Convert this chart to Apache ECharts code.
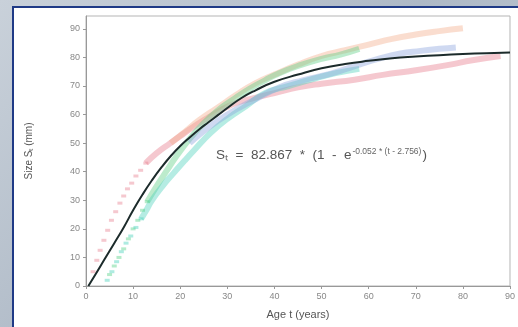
<!DOCTYPE html>
<html>
<head>
<meta charset="utf-8">
<script src="https://cdn.jsdelivr.net/npm/echarts@6/dist/echarts.min.js"></script>
<style>
  html, body { margin: 0; padding: 0; }
  body {
    width: 518px; height: 327px; overflow: hidden; position: relative;
    background: linear-gradient(135deg, #c9d1da 0%, #aeb9c6 50%, #c3ccd6 100%);
  }
  .panel {
    position: absolute; left: 12px; top: 6px; right: -4px; bottom: -4px;
    background: #fff; border: 2px solid #1f3a86;
  }
  #main { position: absolute; left: 0; top: 0; width: 518px; height: 327px; }
</style>
</head>
<body>
<div class="panel"></div>
<div id="main"></div>
<script>
// [age, size] pairs
// early scattered points (young ages) and later dense bands
const redEarly = [[1.5,5],[2.3,9],[3,12.5],[3.8,16],[4.6,19.5],[5.4,23],[6.3,26],[7.2,29],[8,31.5],[8.8,34],[9.7,36],[10.6,38.5],[11.6,40.5],[12.7,43]];
const redPts = [[12.7,43],[15,46.5],[17.9,50],[20,52.5],[22.9,55.8],[26,59],[31,63.5],[35,65.5],[40,67.5],[45,69.5],[50,70.8],[57,72.2],[63,73.9],[70,75.5],[77,77.4],[82,79],[88,80.5]];
const orangePts = [[18,50],[21,54],[24,58],[28,62.5],[32,67],[36,71],[40,74],[45,77.5],[50,80.5],[55,82.5],[60,84.5],[65,86.5],[70,88],[75,89.2],[80,90.2]];
const greenEarly = [[5,4],[6,7],[7,10],[8,13],[9,16.5],[10,20],[11,23],[12,26.5],[13,29.5]];
const greenPts = [[13,29.5],[15.4,36],[17,40],[19,45],[22,51.5],[25,57],[28,61.5],[31,65],[34.7,69],[38,72],[41,74.5],[45.3,77.2],[50,79.5],[54,81],[58,83]];
const tealEarly = [[4.5,2],[5.5,5],[6.5,8.5],[7.5,12],[8.5,15],[9.5,17.5],[10.6,20.5],[11.7,23.5]];
const tealPts = [[11.7,23.5],[12.8,26.5],[14,30],[16.5,35.5],[18.6,39.5],[21,44],[23,47.6],[26.4,53.5],[30,58.5],[34,63],[38,67.5],[43,70],[48.9,72.8],[53,74.5],[58,76]];
const bluePts = [[22,50],[26,55.5],[30,60],[35,64.5],[41,69.5],[46,72],[52,74.3],[58,77.5],[62,79.5],[66.5,81.3],[71,82.3],[75,83],[78.5,83.5]];
const fitPts = [[0.5,0],[2,4],[4,9.5],[6,15],[8,20.5],[10,26.5],[12,32],[14,37],[16,41.5],[18,45.5],[20,49],[22,52],[24,54.8],[26,57.3],[28,59.8],[30,62.3],[33,65.8],[36,68.5],[40,71.5],[45,74],[50,76.2],[55,77.7],[60,78.8],[65,79.7],[70,80.3],[75,80.8],[80,81.2],[85,81.5],[90,81.7]];

const xTicks = [0, 10, 20, 30, 40, 50, 60, 70, 80, 90];
const yTicks = [0, 10, 20, 30, 40, 50, 60, 70, 80, 90];

const band = (name, data, color) => ({
  name, type: 'line', data, smooth: true, showSymbol: false,
  lineStyle: { color, width: 6, opacity: 0.42 },
  z: 2
});
const dots = (name, data, color) => ({
  name, type: 'scatter', data, symbol: 'rect', symbolSize: [5, 3],
  itemStyle: { color, opacity: 0.42 },
  z: 2
});

const chart = echarts.init(document.getElementById('main'));
chart.setOption({
  animation: false,
  textStyle: { fontFamily: 'Liberation Sans' },
  grid: { left: 86, right: 7, top: 16, bottom: 41, show: true, borderColor: '#b5b5b5', borderWidth: 1 },
  xAxis: {
    type: 'value', min: 0, max: 90, interval: 10,
    name: 'Age t (years)', nameLocation: 'middle', nameGap: 23,
    nameTextStyle: { color: '#555', fontSize: 11 },
    axisLine: { lineStyle: { color: '#999' } },
    axisTick: { show: true, length: 3, customValues: xTicks, lineStyle: { color: '#999' } },
    axisLabel: { customValues: xTicks, color: '#888', fontSize: 9, margin: 6 },
    splitLine: { show: false }
  },
  yAxis: {
    type: 'value', min: 0, max: 94.5,
    name: 'Size Sₜ (mm)', nameLocation: 'middle', nameGap: 52,
    nameTextStyle: { color: '#555', fontSize: 10 },
    axisLine: { show: true, lineStyle: { color: '#999' } },
    axisTick: { show: true, length: 3, customValues: yTicks, lineStyle: { color: '#999' } },
    axisLabel: { customValues: yTicks, color: '#888', fontSize: 9, margin: 6 },
    splitLine: { show: false }
  },
  graphic: [{
    type: 'text', left: 216, top: 147, z: 10,
    style: {
      text: '{m|Sₜ  =  82.867  *  (1  -  e}{s|-0.052 * (t - 2.756)}{m|)}',
      rich: {
        m: { fontSize: 13.5, fill: '#555', fontFamily: 'Liberation Sans' },
        s: { fontSize: 8.5, fill: '#666', fontFamily: 'Liberation Sans', verticalAlign: 'top', padding: [0, 1, 8, 1] }
      }
    }
  }],
  series: [
    dots('red early', redEarly, '#e67c8c'),
    band('red', redPts, '#e67c8c'),
    band('orange', orangePts, '#f4ae8c'),
    dots('green early', greenEarly, '#4fcf80'),
    band('green', greenPts, '#5fcf86'),
    dots('teal early', tealEarly, '#3fd0b8'),
    band('teal', tealPts, '#4fd2bd'),
    band('blue', bluePts, '#8ca4de'),
    {
      name: 'fit', type: 'line', data: fitPts, smooth: true, showSymbol: false,
      lineStyle: { color: '#1c2b2b', width: 2 }, z: 5
    }
  ]
});
</script>
</body>
</html>
